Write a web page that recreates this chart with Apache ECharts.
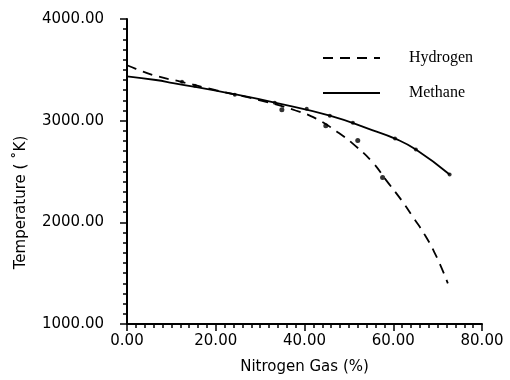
<!DOCTYPE html>
<html>
<head>
<meta charset="utf-8">
<script src="https://cdn.jsdelivr.net/npm/echarts@6/dist/echarts.min.js"></script>
<style>
  html, body { margin: 0; padding: 0; background: #fff; }
  #chart { width: 510px; height: 380px; }
</style>
</head>
<body>
<div id="chart"></div>
<script>
// Curves: [nitrogen %, temperature K]
const hydrogenCurve = [
  [0, 3545], [2, 3510], [6.5, 3441], [12, 3385], [20, 3300], [30, 3200],
  [38, 3100], [42.6, 3020], [47.3, 2892], [51.4, 2755], [55.4, 2588],
  [58.3, 2420], [61.9, 2215], [64.4, 2055], [67.3, 1863], [69.8, 1657], [72.3, 1400]
];
const methaneCurve = [
  [0, 3435], [6.5, 3400], [10.4, 3370], [24, 3262], [33.3, 3178],
  [45.7, 3050], [55.4, 2905], [60.4, 2824], [65.1, 2716], [72.7, 2471]
];
// Measured points (dots)
const hydrogenPoints = [[34.9, 3108], [44.8, 2951], [52, 2804], [57.6, 2441]];
const methanePoints = [
  [12.4, 3382], [15.3, 3343], [24.3, 3255], [33.3, 3176], [40.5, 3118],
  [45.7, 3049], [50.9, 2980], [60.4, 2824], [65.1, 2716], [72.7, 2471]
];
const xTicks = { min: 0, max: 80, interval: 20 };
const yTicks = { min: 1000, max: 4000, interval: 1000 };

const chart = echarts.init(document.getElementById("chart"));
const labelFont = { color: "#000", fontFamily: "DejaVu Sans", fontSize: 15 };

chart.setOption({
  animation: false,
  backgroundColor: "#fff",
  grid: { left: 127, right: 28, top: 19, bottom: 55 },
  legend: {
    data: ["Hydrogen", "Methane"],
    orient: "vertical",
    left: 317,
    top: 45,
    itemWidth: 57,
    itemHeight: 14,
    itemGap: 19,
    itemStyle: { opacity: 0 },
    textStyle: { color: "#000", fontFamily: "Liberation Serif", fontSize: 16, padding: [0, 0, 0, 24] }
  },
  xAxis: {
    type: "value",
    min: xTicks.min,
    max: xTicks.max,
    interval: xTicks.interval,
    name: "Nitrogen Gas (%)",
    nameLocation: "middle",
    nameGap: 36,
    nameTextStyle: labelFont,
    axisLine: { lineStyle: { color: "#000", width: 2 } },
    axisTick: { length: 7, lineStyle: { color: "#000", width: 1.5 } },
    minorTick: { show: true, splitNumber: 10, length: 4, lineStyle: { color: "#000", width: 1.5 } },
    splitLine: { show: false },
    axisLabel: { ...labelFont, margin: 10, formatter: v => v.toFixed(2) }
  },
  yAxis: {
    type: "value",
    min: yTicks.min,
    max: yTicks.max,
    interval: yTicks.interval,
    name: "Temperature ( ˚K)",
    nameLocation: "middle",
    nameGap: 98,
    nameTextStyle: { ...labelFont, padding: [0, 62, 0, 0] },
    axisLine: { show: true, lineStyle: { color: "#000", width: 2 } },
    axisTick: { show: true, length: 7, lineStyle: { color: "#000", width: 1.5 } },
    minorTick: { show: true, splitNumber: 10, length: 4, lineStyle: { color: "#000", width: 1.5 } },
    splitLine: { show: false },
    axisLabel: { ...labelFont, margin: 23, formatter: v => v.toFixed(2) }
  },
  series: [
    {
      name: "Hydrogen",
      type: "line",
      data: hydrogenCurve,
      smooth: 0.5,
      symbol: "none",
      lineStyle: { color: "#000", width: 1.8, type: [10, 7] },
      itemStyle: { color: "#000" }
    },
    {
      name: "Methane",
      type: "line",
      data: methaneCurve,
      smooth: 0.5,
      symbol: "none",
      lineStyle: { color: "#000", width: 1.8 },
      itemStyle: { color: "#000" }
    },
    {
      type: "scatter",
      data: hydrogenPoints,
      symbolSize: 5,
      itemStyle: { color: "#000" }
    },
    {
      type: "scatter",
      data: methanePoints,
      symbolSize: 4,
      itemStyle: { color: "#000" }
    }
  ]
});
</script>
</body>
</html>
